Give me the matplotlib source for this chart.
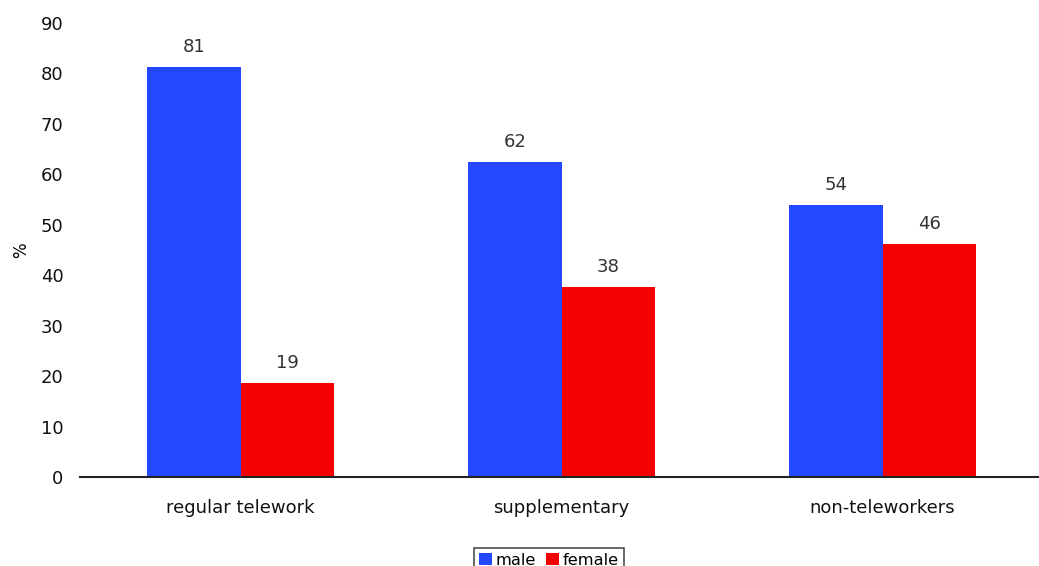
import matplotlib
matplotlib.use("Agg")
import matplotlib.pyplot as plt
import numpy as np

categories = ["regular telework", "supplementary", "non-teleworkers"]
male = [81.3, 62.4, 53.9]
female = [18.7, 37.6, 46.1]
series_names = ["male", "female"]
yticks = [0, 10, 20, 30, 40, 50, 60, 70, 80, 90]

plt.rcParams['font.family'] = ['DejaVu Sans']
fig = plt.figure(figsize=(10.39, 5.66), dpi=100)
ax = fig.add_axes([80/1039, 1-477/566, (1043-80)/1039, (477-23)/566])

x = np.arange(len(categories))
w = 0.29
blue = "#2348FF"
red = "#F40000"
fs = 13
b1 = ax.bar(x - w/2, male, w, color=blue, label=series_names[0])
b2 = ax.bar(x + w/2, female, w, color=red, label=series_names[1])
for bars in (b1, b2):
    for r in bars:
        ax.annotate(f"{r.get_height():.0f}", (r.get_x() + r.get_width()/2, r.get_height()),
                    xytext=(0, 8), textcoords="offset points", ha="center", va="bottom",
                    fontsize=fs, color="#333333")

ax.set_xlim(-0.5, 2.5)
ax.set_ylim(0, 90)
ax.set_yticks(yticks)
ax.set_xticks(x)
ax.set_xticklabels(categories, fontsize=fs, color="#111111")
ax.tick_params(axis='both', length=0, labelsize=fs, colors="#111111")
ax.tick_params(axis='x', pad=16)
ax.tick_params(axis='y', pad=12)
for s in ("left", "right", "top"):
    ax.spines[s].set_visible(False)
ax.spines["bottom"].set_color("#222222")
ax.spines["bottom"].set_linewidth(1.5)
ax.set_ylabel("%", fontsize=12)
ax.yaxis.set_label_coords(-0.052, 0.5)

leg = fig.legend(handles=[b1, b2], loc="lower center", bbox_to_anchor=(549/1039, -0.012),
                 ncol=2, fontsize=11.7, frameon=True, fancybox=False, edgecolor="#222222",
                 handlelength=0.8, handleheight=0.8, handletextpad=0.25, columnspacing=0.6,
                 borderpad=0.3, borderaxespad=0)
leg.get_frame().set_linewidth(1.2)

fig.savefig("out.png", dpi=100)
